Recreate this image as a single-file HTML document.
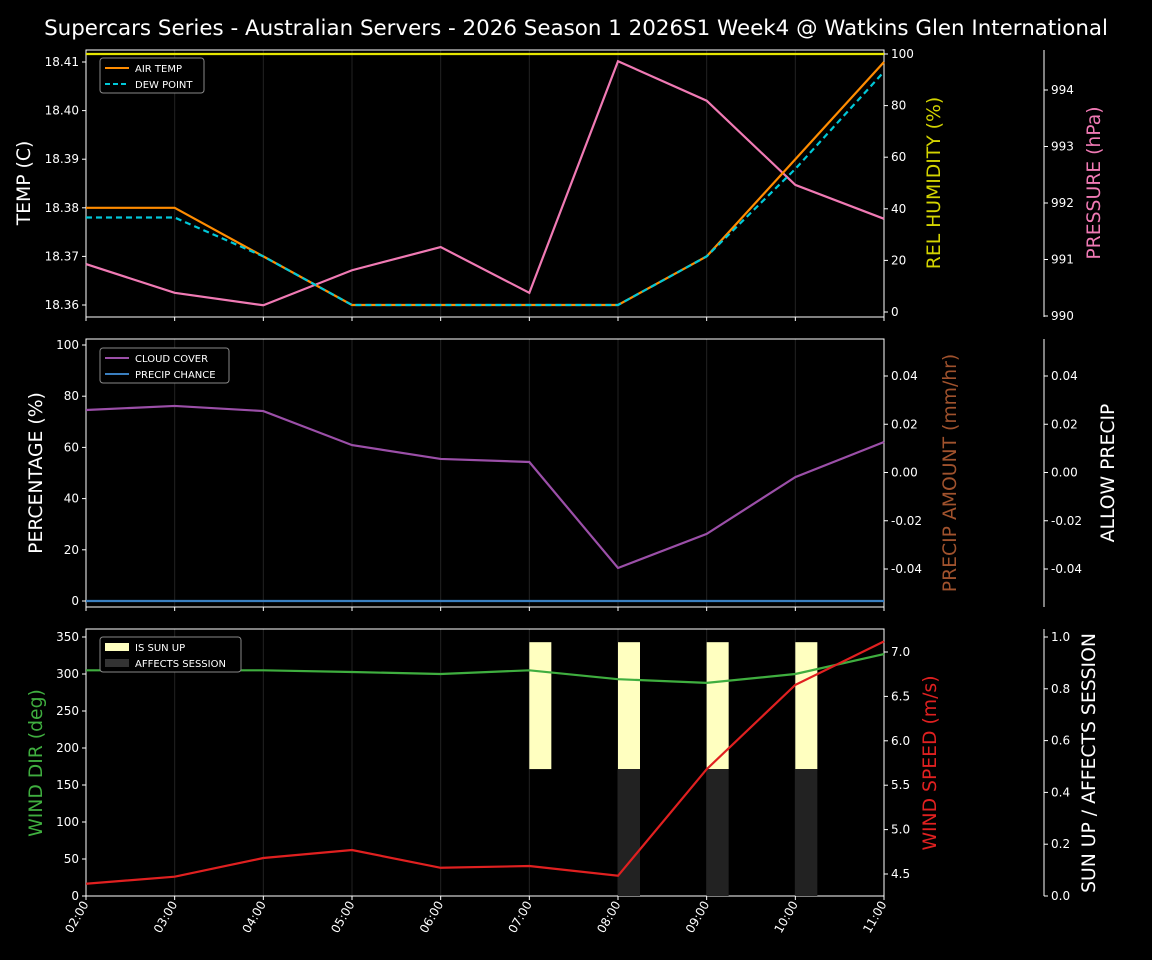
<!DOCTYPE html>
<html><head><meta charset="utf-8"><style>
body{margin:0;background:#000;}
svg{display:block;font-family:"DejaVu Sans","Liberation Sans",sans-serif;}
</style></head><body>
<svg id="c" width="1152" height="960" viewBox="0 0 1152 960" xmlns="http://www.w3.org/2000/svg">
<rect width="1152" height="960" fill="#000"/>
<text x="576" y="35" fill="#fff" font-size="21.4" text-anchor="middle">Supercars Series - Australian Servers - 2026 Season 1 2026S1 Week4 @ Watkins Glen International</text>
</svg>
<script>
const hours=["02:00","03:00","04:00","05:00","06:00","07:00","08:00","09:00","10:00","11:00"];
const airTemp=[18.38,18.38,18.37,18.36,18.36,18.36,18.36,18.37,18.39,18.41];
const dewPoint=[18.378,18.378,18.37,18.36,18.36,18.36,18.36,18.37,18.388,18.408];
const humidity=[100,100,100,100,100,100,100,100,100,100];
const pressure=[990.92,990.41,990.19,990.81,991.22,990.41,994.51,993.81,992.32,991.72];
const cloudCover=[74.6,76.2,74.2,60.9,55.5,54.3,12.9,26.2,48.4,62.1];
const precipChance=[0,0,0,0,0,0,0,0,0,0];
const windDir=[305,305,305,302.7,300,305,293,288,300,327];
const windSpeed=[4.39,4.47,4.68,4.77,4.57,4.59,4.48,5.68,6.63,7.12];
const sunUp=[0,0,0,0,0,1,1,1,1,0];
const affects=[0,0,0,0,0,0,1,1,1,0];
const tempTicks=[18.36,18.37,18.38,18.39,18.40,18.41];
const humTicks=[0,20,40,60,80,100];
const presTicks=[990,991,992,993,994];
const pctTicks=[0,20,40,60,80,100];
const precTicks=[-0.04,-0.02,0.00,0.02,0.04];
const dirTicks=[0,50,100,150,200,250,300,350];
const spdTicks=[4.5,5.0,5.5,6.0,6.5,7.0];
const sunTicks=[0,0.2,0.4,0.6,0.8,1.0];

const svg=document.getElementById('c');
const NS='http://www.w3.org/2000/svg';
function el(tag,attrs,parent){const e=document.createElementNS(NS,tag);for(const k in attrs)e.setAttribute(k,attrs[k]);(parent||svg).appendChild(e);return e;}
function lin(d0,d1,r0,r1){return v=>r0+(v-d0)*(r1-r0)/(d1-d0);}
const X0=86,X1=884;
const x=i=>X0+i*(X1-X0)/(hours.length-1);
const panels=[{t:50,b:317},{t:339,b:607},{t:629,b:896}];

function frame(p,name){
  const g=el('g',{});
  hours.forEach((h,i)=>{el('line',{x1:x(i),x2:x(i),y1:p.t,y2:p.b,stroke:'#222','stroke-width':1},g);});
  el('rect',{x:X0,y:p.t,width:X1-X0,height:p.b-p.t,fill:'none',stroke:'#fff','stroke-width':1},g);
  hours.forEach((h,i)=>{el('line',{x1:x(i),x2:x(i),y1:p.b,y2:p.b+4,stroke:'#fff'},g);});
  return g;
}
function yaxis(ticks,sc,xpos,side,fmt,name,spine,p){
  const g=el('g',{});
  if(spine)el('line',{x1:xpos,x2:xpos,y1:p.t,y2:p.b,stroke:'#fff'},g);
  ticks.forEach(t=>{const y=sc(t);
    el('line',{x1:xpos,x2:xpos+(side<0?-4:4),y1:y,y2:y,stroke:'#fff'},g);
    const tx=el('text',{x:xpos+(side<0?-7:7),y:y+4,fill:'#fff','font-size':12,'text-anchor':side<0?'end':'start'},g);tx.textContent=fmt(t);});
}
function label(txt,xp,yp,col,name){const t=el('text',{x:xp,y:yp,fill:col,'font-size':18.8,'text-anchor':'middle',transform:`rotate(-90 ${xp} ${yp})`});t.textContent=txt;}
function line(vals,sc,col,name,dash){const d=vals.map((v,i)=>(i?'L':'M')+x(i)+' '+sc(v)).join(' ');const p=el('path',{d:d,stroke:col,'stroke-width':2.2,fill:'none'});if(dash)p.setAttribute('stroke-dasharray',dash);}
function legend(items,lx,ly,w,name){const g=el('g',{});
  el('rect',{x:lx,y:ly,width:w,height:items.length*16+3,rx:3,fill:'#000',stroke:'#888'},g);
  items.forEach((it,i)=>{const yy=ly+10+i*16;
    if(it.box)el('rect',{x:lx+5,y:yy-4,width:24,height:8,fill:it.col},g);
    else{const l=el('line',{x1:lx+5,x2:lx+29,y1:yy,y2:yy,stroke:it.col,'stroke-width':2},g);if(it.dash)l.setAttribute('stroke-dasharray',it.dash);}
    const t=el('text',{x:lx+35,y:yy+4,fill:'#fff','font-size':10},g);t.textContent=it.t;});}

// Panel 1
let p=panels[0];frame(p,'temp-panel');
const ty=lin(18.36,18.41,305,62), hy=lin(0,100,312,54), py=lin(990,994,316,90);
yaxis(tempTicks,ty,X0,-1,v=>v.toFixed(2),'temp-axis',false,p);
yaxis(humTicks,hy,X1,1,v=>v,'humidity-axis',false,p);
yaxis(presTicks,py,1044,1,v=>v,'pressure-axis',true,p);
label('TEMP (C)',30,183,'#fff','temp-axis-title');
label('REL HUMIDITY (%)',940,183,'#d4d400','humidity-axis-title');
label('PRESSURE (hPa)',1100,183,'#f07ab4','pressure-axis-title');
line(humidity,hy,'#e5e500','humidity-line');
line(pressure,py,'#f07ab4','pressure-line');
line(airTemp,ty,'#ff8c00','air-temp-line');
line(dewPoint,ty,'#00c8d8','dew-point-line','6,4');
legend([{t:'AIR TEMP',col:'#ff8c00'},{t:'DEW POINT',col:'#00c8d8',dash:'5,3'}],100,58,104,'temp-legend');

// Panel 2
p=panels[1];frame(p,'cloud-panel');
const cy=lin(0,100,601,345), ry=lin(-0.04,0.04,569,376);
yaxis(pctTicks,cy,X0,-1,v=>v,'percentage-axis',false,p);
yaxis(precTicks,ry,X1,1,v=>v.toFixed(2),'precip-amount-axis',false,p);
yaxis(precTicks,ry,1044,1,v=>v.toFixed(2),'allow-precip-axis',true,p);
label('PERCENTAGE (%)',42,473,'#fff','percentage-axis-title');
label('PRECIP AMOUNT (mm/hr)',956,473,'#a0522d','precip-amount-axis-title');
label('ALLOW PRECIP',1114,473,'#fff','allow-precip-axis-title');
line(cloudCover,cy,'#9b4fa8','cloud-cover-line');
line(precipChance,cy,'#3a7fc0','precip-chance-line');
legend([{t:'CLOUD COVER',col:'#9b4fa8'},{t:'PRECIP CHANCE',col:'#3a7fc0'}],100,348,129,'cloud-legend');

// Panel 3
p=panels[2];frame(p,'wind-panel');
const dy=lin(0,350,896,637), sy=lin(4.5,7.0,874,652), uy=lin(0,1,896,637);
sunUp.forEach((v,i)=>{if(v){const r=el('rect',{x:x(i),y:uy(0.98*v),width:22,height:uy(0.49)-uy(0.98*v),fill:'#ffffc0'});}});
affects.forEach((v,i)=>{if(v){const r=el('rect',{x:x(i),y:uy(0.49*v),width:22,height:uy(0)-uy(0.49*v),fill:'#222'});}});
yaxis(dirTicks,dy,X0,-1,v=>v,'wind-dir-axis',false,p);
yaxis(spdTicks,sy,X1,1,v=>v.toFixed(1),'wind-speed-axis',false,p);
yaxis(sunTicks,uy,1044,1,v=>v.toFixed(1),'sun-up-axis',true,p);
label('WIND DIR (deg)',42,763,'#3fae3f','wind-dir-axis-title');
label('WIND SPEED (m/s)',936,763,'#e02020','wind-speed-axis-title');
label('SUN UP / AFFECTS SESSION',1095,763,'#fff','sun-up-axis-title');
line(windDir,dy,'#3fae3f','wind-dir-line');
line(windSpeed,sy,'#e02020','wind-speed-line');
legend([{t:'IS SUN UP',col:'#ffffc0',box:true},{t:'AFFECTS SESSION',col:'#333',box:true}],100,637,141,'wind-legend');
hours.forEach((h,i)=>{const xx=x(i)+3,yy=904;const t=el('text',{x:xx,y:yy,fill:'#fff','font-size':12,'text-anchor':'end',transform:`rotate(-60 ${xx} ${yy})`});t.textContent=h;});
</script>
</body></html>
